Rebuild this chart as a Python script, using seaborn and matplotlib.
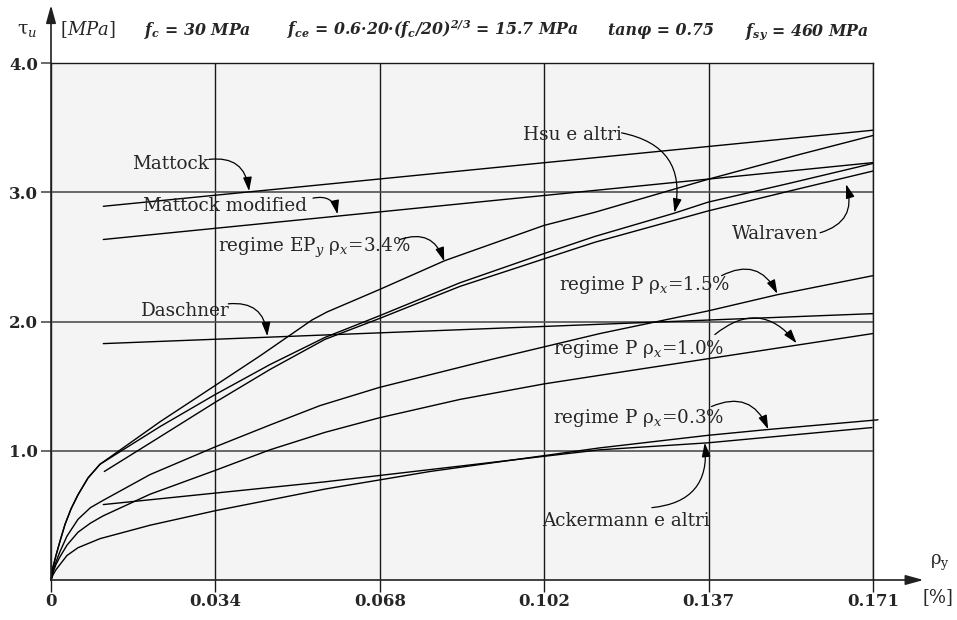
import matplotlib
matplotlib.use("Agg")
import matplotlib.pyplot as plt
import seaborn as sns

# ---------------- data ----------------
x_ticks = [0, 0.0342, 0.0684, 0.1026, 0.1368, 0.171]
x_tick_labels = ["0", "0.034", "0.068", "0.102", "0.137", "0.171"]
y_ticks = [1.0, 2.0, 3.0, 4.0]
y_tick_labels = ["1.0", "2.0", "3.0", "4.0"]

ep_x = [0, 0.00042, 0.00104, 0.00187, 0.00291, 0.00416, 0.00562, 0.00770, 0.01019, 0.02268,
        0.03412, 0.04348, 0.05430, 0.05742, 0.06823, 0.08196, 0.10256, 0.11317, 0.13668,
        0.15581, 0.17100]
ep_y = [0, 0.10, 0.19, 0.30, 0.43, 0.55, 0.66, 0.79, 0.896, 1.225,
        1.505, 1.735, 2.013, 2.075, 2.247, 2.473, 2.745, 2.847, 3.102,
        3.295, 3.441]

hsu_x = [0, 0.00042, 0.00104, 0.00187, 0.00291, 0.00416, 0.00562, 0.00770, 0.01019, 0.02268,
         0.03412, 0.04556, 0.05700, 0.06823, 0.08508, 0.10256, 0.11317, 0.12960, 0.13668,
         0.15373, 0.17100]
hsu_y = [0, 0.10, 0.19, 0.30, 0.43, 0.55, 0.66, 0.79, 0.896, 1.1875,
         1.435, 1.668, 1.878, 2.044, 2.301, 2.527, 2.660, 2.839, 2.925,
         3.072, 3.225]

walraven_x = [0.01109, 0.02060, 0.03412, 0.04556, 0.05700, 0.06823, 0.08508, 0.10256,
              0.11317, 0.13668, 0.15373, 0.17100]
walraven_y = [0.84, 1.06, 1.375, 1.630, 1.863, 2.023, 2.273, 2.486, 2.615, 2.857, 3.012, 3.166]

mattock_x = [0.01088, 0.17100]
mattock_y = [2.893, 3.482]

mattock_mod_x = [0.01088, 0.17100]
mattock_mod_y = [2.636, 3.231]

daschner_x = [0.01088, 0.17100]
daschner_y = [1.830, 2.062]

p15_x = [0, 0.00042, 0.00104, 0.00187, 0.00333, 0.00562, 0.00820, 0.01082, 0.02060, 0.03412,
         0.04556, 0.05596, 0.06823, 0.09133, 0.11421, 0.13668, 0.15103, 0.17100]
p15_y = [0, 0.07, 0.14, 0.22, 0.34, 0.47, 0.56, 0.616, 0.816, 1.030,
         1.200, 1.350, 1.490, 1.705, 1.908, 2.083, 2.208, 2.356]

p10_x = [0, 0.00042, 0.00104, 0.00187, 0.00333, 0.00562, 0.00820, 0.01082, 0.02060, 0.03412,
         0.04556, 0.05700, 0.06823, 0.08508, 0.10256, 0.11421, 0.13668, 0.15373, 0.17100]
p10_y = [0, 0.06, 0.12, 0.18, 0.27, 0.37, 0.44, 0.496, 0.664, 0.848,
         1.008, 1.143, 1.255, 1.398, 1.518, 1.585, 1.713, 1.810, 1.908]

p03_x = [0, 0.00042, 0.00104, 0.00187, 0.00333, 0.00562, 0.01019, 0.02060, 0.03412, 0.05700,
         0.07884, 0.11421, 0.13668, 0.14916, 0.17204]
p03_y = [0, 0.04, 0.08, 0.12, 0.19, 0.25, 0.32, 0.424, 0.536, 0.704,
         0.84, 1.023, 1.12, 1.165, 1.24]

ackermann_x = [0.01088, 0.05700, 0.11421, 0.13668, 0.17079]
ackermann_y = [0.584, 0.76, 1.008, 1.062, 1.18]

curve_labels = ["Mattock", "Mattock modified", "regime EP$_y$ ρ$_x$=3.4%", "Daschner",
                "Hsu e altri", "Walraven", "regime P ρ$_x$=1.5%", "regime P ρ$_x$=1.0%",
                "regime P ρ$_x$=0.3%", "Ackermann e altri"]

# ---------------- style ----------------
sns.set_style("white")
plt.rcParams["font.family"] = ["DejaVu Serif"]
plt.rcParams["mathtext.fontset"] = "custom"
plt.rcParams["mathtext.rm"] = "DejaVu Serif"
plt.rcParams["mathtext.it"] = "DejaVu Serif:italic"
plt.rcParams["mathtext.bf"] = "DejaVu Serif:italic:bold"

W, H = 957, 620
fig = plt.figure(figsize=(W / 100, H / 100), dpi=100)
ax = fig.add_axes([51 / W, 1 - 580 / H, 822 / W, (580 - 63.3) / H])
ax.set_facecolor("#f4f4f4")

series = [(mattock_x, mattock_y), (mattock_mod_x, mattock_mod_y), (ep_x, ep_y),
          (daschner_x, daschner_y), (hsu_x, hsu_y), (walraven_x, walraven_y),
          (p15_x, p15_y), (p10_x, p10_y), (p03_x, p03_y), (ackermann_x, ackermann_y)]
for cx, cy in series:
    sns.lineplot(x=cx, y=cy, ax=ax, color="black", lw=1.0, sort=False,
                 estimator=None, legend=False)
for ln in ax.lines:
    ln.set_clip_on(False)
    ln.set_solid_joinstyle("round")

ax.set_xlim(0, 0.171)
ax.set_ylim(0, 4.0)
ax.set_xticks(x_ticks, x_tick_labels)
ax.set_yticks(y_ticks, y_tick_labels)
ax.tick_params(axis="x", bottom=True, direction="out", length=8.4, width=1.0,
               color="#1a1a1a", pad=1, labelsize=12)
ax.tick_params(axis="y", left=True, direction="out", length=7.2, width=1.2,
               color="#505050", pad=2, labelsize=12)
for lbl in ax.get_xticklabels() + ax.get_yticklabels():
    lbl.set_fontweight("bold")
ax.set_axisbelow(True)
ax.grid(True, axis="x", color="#1a1a1a", lw=1.0)
ax.grid(True, axis="y", color="#505050", lw=1.2)
ax.spines["left"].set_visible(False)
ax.spines["bottom"].set_visible(False)
for s in ("top", "right"):
    ax.spines[s].set_color("#1a1a1a")
    ax.spines[s].set_linewidth(1.0)
ax.set_xlabel("")
ax.set_ylabel("")

axis_arrow = dict(arrowstyle="-|>,head_length=0.9,head_width=0.25", color="#202020",
                  lw=1.2, shrinkA=0, shrinkB=0, mutation_scale=12)
ax.annotate("", xy=(0.1815, 0), xytext=(0, 0), arrowprops=axis_arrow, annotation_clip=False)
ax.annotate("", xy=(0, 4.45), xytext=(0, 0), arrowprops=axis_arrow, annotation_clip=False)

# labels with curved arrows: (text position, arrow tail, arrow tip, rad)
label_layout = [
    ((0.01677, 3.179), (0.03287, 3.256), (0.0412, 3.01), -0.5),
    ((0.01907, 2.857), (0.0545, 2.956), (0.0596, 2.831), -0.5),
    ((0.03468, 2.537), (0.0726, 2.636), (0.0818, 2.467), -0.5),
    ((0.01872, 2.044), (0.03688, 2.138), (0.0450, 1.887), -0.5),
    ((0.09825, 3.410), (0.1187, 3.4615), (0.1297, 2.844), -0.5),
    ((0.1416, 2.642), (0.1600, 2.688), (0.1654, 3.064), 0.5),
    ((0.1056, 2.247), (0.1395, 2.356), (0.1511, 2.216), -0.5),
    ((0.1045, 1.750), (0.1381, 1.900), (0.1551, 1.833), -0.5),
    ((0.1045, 1.2176), (0.1374, 1.343), (0.1492, 1.167), -0.5),
    ((0.1021, 0.418), (0.1250, 0.560), (0.1360, 1.062), 0.5),
]
for text, (tpos, tail, tip, rad) in zip(curve_labels, label_layout):
    ax.text(tpos[0], tpos[1], text, fontsize=13.2, ha="left", va="baseline", zorder=5)
    ax.annotate("", xy=tip, xytext=tail,
                arrowprops=dict(arrowstyle="-|>,head_length=0.7,head_width=0.22",
                                color="black", lw=0.9, shrinkA=0, shrinkB=0,
                                mutation_scale=12, connectionstyle=f"arc3,rad={rad}"),
                zorder=5)

# header and axis titles
def ftext(px, py, s, **kw):
    fig.text(px / W, 1 - py / H, s, ha="left", va="baseline", **kw)

ftext(17, 34, "τ$_u$", fontsize=13.5)
ftext(60, 35, "[$\\mathit{MPa}$]", fontsize=13)
hdr = dict(fontsize=11.3, style="italic", weight="bold")
ftext(144, 35, "$\\mathbf{f}_\\mathbf{c}$ = 30 MPa", **hdr)
ftext(287, 35, "$\\mathbf{f}_\\mathbf{ce}$ = 0.6·20·($\\mathbf{f}_\\mathbf{c}$/20)$^\\mathbf{2/3}$ = 15.7 MPa", **hdr)
ftext(608, 35, "tanφ = 0.75", **hdr)
ftext(745, 35, "$\\mathbf{f}_\\mathbf{sy}$ = 460 MPa", **hdr)
ftext(930, 565, "ρ$_\\mathrm{y}$", fontsize=13)
ftext(922, 601.7, "[%]", fontsize=13)

fig.savefig("out.png", dpi=100)
